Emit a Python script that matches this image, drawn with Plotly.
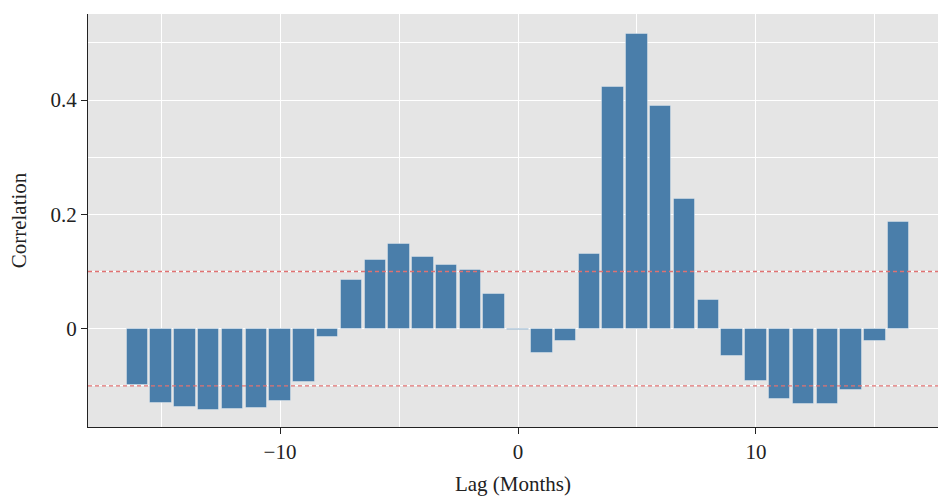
import plotly.graph_objects as go

lags = list(range(-16, 17))
correlation = [
    -0.098, -0.130, -0.137, -0.142, -0.141, -0.139, -0.126, -0.094, -0.015,
    0.086, 0.121, 0.148, 0.126, 0.111, 0.103, 0.061,
    -0.002,
    -0.043, -0.022, 0.130, 0.423, 0.516, 0.390, 0.227, 0.050,
    -0.048, -0.092, -0.123, -0.132, -0.131, -0.108, -0.021, 0.187,
]
threshold = 0.1
x_ticks = [-10, 0, 10]
y_ticks = [0, 0.2, 0.4]

font = "Liberation Serif, Times New Roman, serif"

fig = go.Figure()
fig.add_trace(go.Bar(
    x=lags, y=correlation, width=0.9,
    marker=dict(color="#4a7eaa", line=dict(color="rgba(255,255,255,0.35)", width=1)),
    showlegend=False,
))
for v in (threshold, -threshold):
    fig.add_hline(y=v, layer="above",
                  line=dict(color="#e07272", width=1.3, dash="4px,3px"))

fig.update_layout(
    width=938, height=497,
    margin=dict(l=88, r=0, t=14, b=70),
    plot_bgcolor="#e5e5e5", paper_bgcolor="white",
    font=dict(family=font, size=21, color="#222"),
    bargap=0,
)
fig.update_xaxes(
    range=[-18.07, 17.65], tickvals=x_ticks,
    showgrid=True, gridcolor="white", gridwidth=1,
    minor=dict(dtick=5, tick0=0, showgrid=True, gridcolor="white", gridwidth=1),
    showline=True, linecolor="#222", linewidth=1.3,
    ticks="outside", ticklen=6, tickcolor="#222", tickwidth=1.3,
    zeroline=False,
    title=dict(text="Lag (Months)", standoff=12, font=dict(size=21)),
)
fig.update_yaxes(
    range=[-0.172, 0.5505], tickvals=y_ticks,
    showgrid=True, gridcolor="white", gridwidth=1,
    minor=dict(dtick=0.1, tick0=0, showgrid=True, gridcolor="white", gridwidth=1),
    showline=True, linecolor="#222", linewidth=1.3,
    ticks="outside", ticklen=6, tickcolor="#222", tickwidth=1.3,
    zeroline=False,
    title=dict(text="Correlation", standoff=18, font=dict(size=21)),
)

fig.write_html(
    "out.html",
    config={"displayModeBar": False},
    post_script="document.body.style.margin='0';document.body.style.overflow='hidden';",
)
